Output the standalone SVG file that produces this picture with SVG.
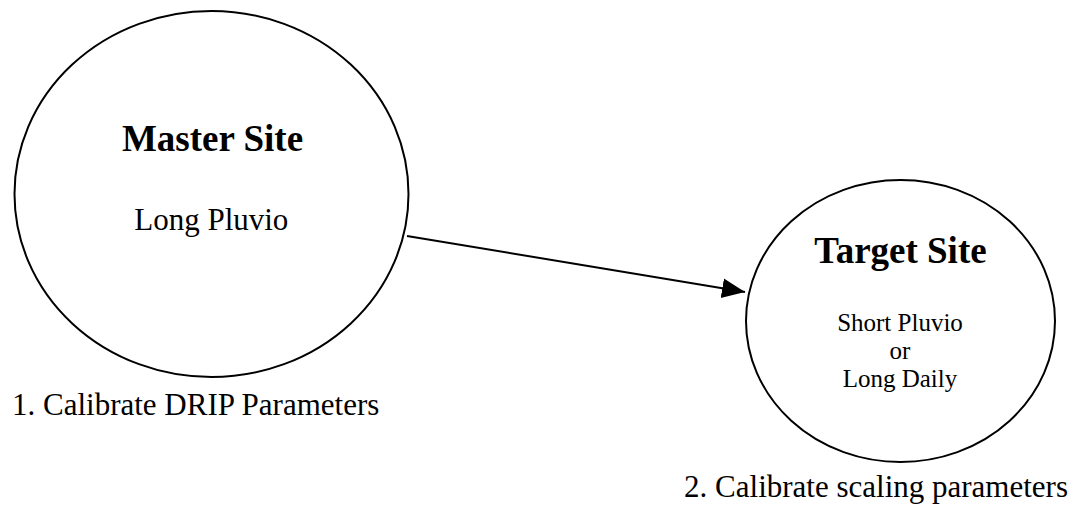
<svg xmlns="http://www.w3.org/2000/svg" width="1075" height="506" viewBox="0 0 1075 506">
<style>
.node{fill:#fff;stroke:#000;stroke-width:2}
.t{font-family:"Liberation Serif","Times New Roman",serif;fill:#000}
.b{font-weight:bold}
.edge{stroke:#000;stroke-width:2;fill:none}
</style>
<defs>
<marker id="ah" markerUnits="userSpaceOnUse" markerWidth="24" markerHeight="22" refX="23" refY="10" orient="auto">
<path d="M0,0 L23,10 L0,20 Z" fill="#000"/>
</marker>
</defs>
<rect width="1075" height="506" fill="#fff"/>
<g id="master">
<ellipse class="node" cx="211.5" cy="194" rx="197" ry="183"/>
<text class="t b" x="212.5" y="150.5" font-size="37" text-anchor="middle">Master Site</text>
<text class="t" x="211.3" y="230" font-size="31" text-anchor="middle">Long Pluvio</text>
</g>
<g id="target">
<ellipse class="node" cx="900.5" cy="321" rx="154.5" ry="141"/>
<text class="t b" x="900.5" y="263" font-size="37" text-anchor="middle">Target Site</text>
<text class="t" x="900" y="330.5" font-size="25" text-anchor="middle">Short Pluvio</text>
<text class="t" x="900" y="358.5" font-size="25" text-anchor="middle">or</text>
<text class="t" x="900" y="387" font-size="25" text-anchor="middle">Long Daily</text>
</g>
<g id="label1">
<text class="t" x="12" y="415" font-size="31">1. Calibrate DRIP Parameters</text>
</g>
<g id="label2">
<text class="t" x="1068" y="496.5" font-size="31" text-anchor="end">2. Calibrate scaling parameters</text>
</g>
<g id="connectors">
<line class="edge" x1="407" y1="236" x2="745" y2="292" marker-end="url(#ah)"/>
</g>
</svg>
